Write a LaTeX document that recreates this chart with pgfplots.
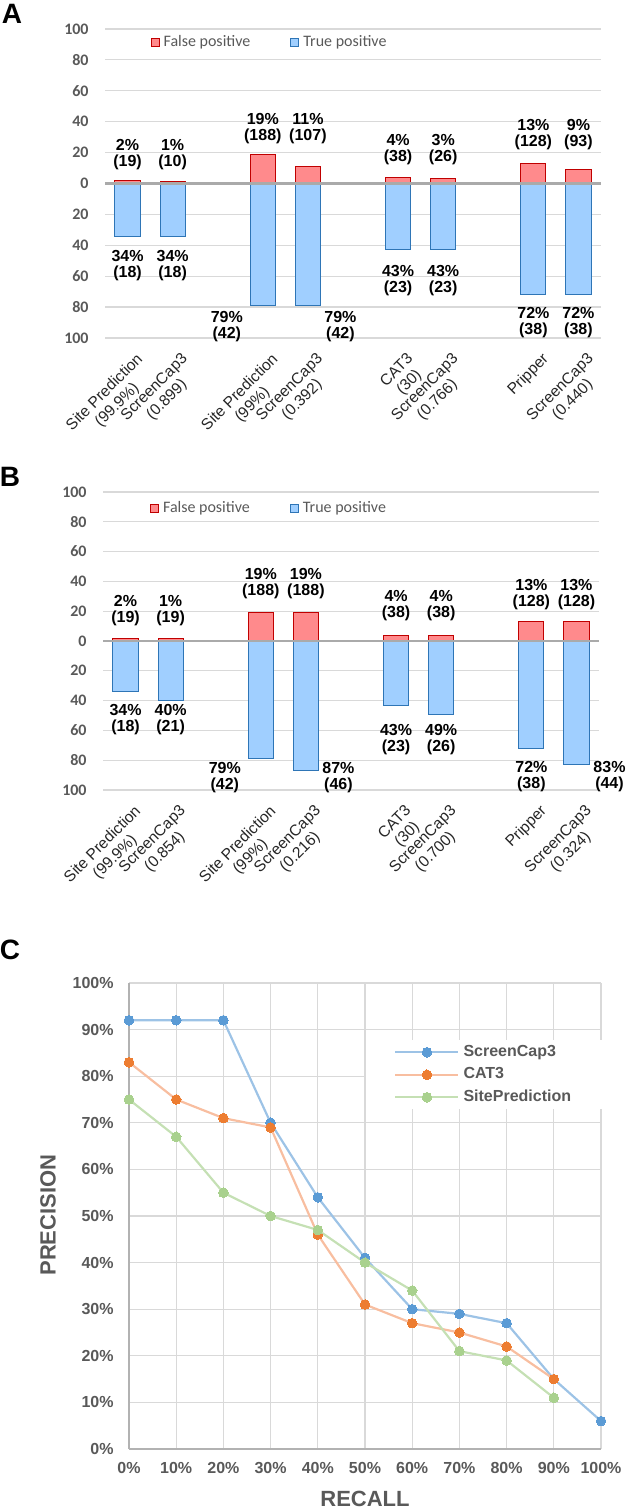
\documentclass[border=0pt]{standalone}
\usepackage{pgfplots}
\pgfplotsset{compat=1.18}
\usepackage{fontspec}
\setmainfont{Liberation Sans}
\newfontfamily\calibri{Carlito}

\definecolor{tickgray}{RGB}{89,89,89}
\definecolor{gridgray}{RGB}{217,217,217}
\definecolor{zerogray}{RGB}{170,170,170}
\definecolor{fpfill}{RGB}{255,138,140}
\definecolor{fpdraw}{RGB}{192,0,0}
\definecolor{tpfill}{RGB}{160,207,255}
\definecolor{tpdraw}{RGB}{46,117,182}
\definecolor{scline}{RGB}{157,195,230}
\definecolor{scmark}{RGB}{91,155,213}
\definecolor{catline}{RGB}{248,190,160}
\definecolor{catmark}{RGB}{237,125,49}
\definecolor{spline}{RGB}{197,224,180}
\definecolor{spmark}{RGB}{169,209,142}

\tikzset{dl/.style={font=\bfseries\fontsize{8}{8}\selectfont, align=center, inner sep=0pt},
         panel/.style={font=\bfseries\fontsize{14}{16}\selectfont, inner sep=0pt}}

\pgfplotsset{
 barpanel/.style={
  scale only axis, width=248pt,
  xmin=-0.5, xmax=10.5, ymin=-100, ymax=100,
  axis line style={draw=none},
  ytick={-100,-80,...,100},
  yticklabels={100,80,60,40,20,0,20,40,60,80,100},
  ymajorgrids, grid style={draw=gridgray, line width=0.6pt},
  major tick length=0pt,
  yticklabel style={font=\calibri\bfseries\fontsize{8}{9}\selectfont, text=tickgray, inner sep=0pt, xshift=-8pt},
  xtick={0,1,3,4,6,7,9,10},
  xticklabel style={font=\fontsize{7.8}{8.8}\selectfont, text=black!85, rotate=45, anchor=north east, align=center, inner sep=0pt, xshift=-2pt, yshift=-7.5pt},
  legend columns=2,
  legend style={draw=none, fill=none, anchor=west, font=\calibri\fontsize{8}{9}\selectfont, text=tickgray, /tikz/every even column/.append style={column sep=18pt}},
  clip=false,
 },
 fp/.style={ybar, bar width=0.56, bar shift=0pt, fill=fpfill, draw=fpdraw, line width=0.5pt, forget plot},
 tp/.style={ybar, bar width=0.56, bar shift=0pt, fill=tpfill, draw=tpdraw, line width=0.5pt, forget plot},
}

\begin{document}
\begin{tikzpicture}
\path[use as bounding box] (0,0) rectangle (314pt,754.5pt);

% panel letters
\node[panel] at (6pt,747.5pt) {A};
\node[panel] at (5pt,516pt) {B};
\node[panel] at (5pt,279.5pt) {C};

% ---------------- Panel A ----------------
\begin{axis}[barpanel, height=154.5pt, at={(52.5pt,585.5pt)}, anchor=south west,
 xticklabels={{Site Prediction\\(99.9\%)},{ScreenCap3\\(0.899)},{Site Prediction\\(99\%)},{ScreenCap3\\(0.392)},{CAT3\\(30)},{ScreenCap3\\(0.766)},{Pripper},{ScreenCap3\\(0.440)}},
 legend style={at={(axis description cs:0.079,0.955)}}]
\addlegendimage{legend image code/.code={\draw[fill=fpfill,draw=fpdraw,line width=0.5pt] (0pt,-2pt) rectangle (4pt,2pt);}}
\addlegendentry{False positive}
\addlegendimage{legend image code/.code={\draw[fill=tpfill,draw=tpdraw,line width=0.5pt] (0pt,-2pt) rectangle (4pt,2pt);}}
\addlegendentry{True positive}
\addplot[fp] coordinates {(0,2) (1,1) (3,19) (4,11) (6,4) (7,3) (9,13) (10,9)};
\addplot[tp] coordinates {(0,-34) (1,-34) (3,-79) (4,-79) (6,-43) (7,-43) (9,-72) (10,-72)};
\draw[zerogray, line width=1.2pt] (axis cs:-0.5,0) -- (axis cs:10.5,0);
% FP labels
\node[dl, anchor=south] at (axis cs:0,8.4) {2\%\\(19)};
\node[dl, anchor=south] at (axis cs:1,8.4) {1\%\\(10)};
\node[dl, anchor=south] at (axis cs:3,25.2) {19\%\\(188)};
\node[dl, anchor=south] at (axis cs:4,25.2) {11\%\\(107)};
\node[dl, anchor=south] at (axis cs:6,11.7) {4\%\\(38)};
\node[dl, anchor=south] at (axis cs:7,11.7) {3\%\\(26)};
\node[dl, anchor=south] at (axis cs:9,21.4) {13\%\\(128)};
\node[dl, anchor=south] at (axis cs:10,21.4) {9\%\\(93)};
% TP labels
\node[dl, anchor=north] at (axis cs:0,-42.7) {34\%\\(18)};
\node[dl, anchor=north] at (axis cs:1,-42.7) {34\%\\(18)};
\node[dl, anchor=north east, xshift=-3.5pt] at (axis cs:2.72,-82.8) {79\%\\(42)};
\node[dl, anchor=north west, xshift=1.75pt] at (axis cs:4.28,-82.8) {79\%\\(42)};
\node[dl, anchor=north] at (axis cs:6,-52.4) {43\%\\(23)};
\node[dl, anchor=north] at (axis cs:7,-52.4) {43\%\\(23)};
\node[dl, anchor=north] at (axis cs:9,-79.6) {72\%\\(38)};
\node[dl, anchor=north] at (axis cs:10,-79.6) {72\%\\(38)};
\end{axis}

% ---------------- Panel B ----------------
\begin{axis}[barpanel, height=149pt, at={(51.5pt,359.5pt)}, anchor=south west,
 xticklabels={{Site Prediction\\(99.9\%)},{ScreenCap3\\(0.854)},{Site Prediction\\(99\%)},{ScreenCap3\\(0.216)},{CAT3\\(30)},{ScreenCap3\\(0.700)},{Pripper},{ScreenCap3\\(0.324)}},
 legend style={at={(axis description cs:0.082,0.946)}}]
\addlegendimage{legend image code/.code={\draw[fill=fpfill,draw=fpdraw,line width=0.5pt] (0pt,-2pt) rectangle (4pt,2pt);}}
\addlegendentry{False positive}
\addlegendimage{legend image code/.code={\draw[fill=tpfill,draw=tpdraw,line width=0.5pt] (0pt,-2pt) rectangle (4pt,2pt);}}
\addlegendentry{True positive}
\addplot[fp] coordinates {(0,2) (1,2) (3,19) (4,19) (6,4) (7,4) (9,13) (10,13)};
\addplot[tp] coordinates {(0,-34) (1,-40) (3,-79) (4,-87) (6,-43) (7,-49) (9,-72) (10,-83)};
\draw[zerogray, line width=1.2pt] (axis cs:-0.5,0) -- (axis cs:10.5,0);
% FP labels
\node[dl, anchor=south] at (axis cs:0,10.1) {2\%\\(19)};
\node[dl, anchor=south] at (axis cs:1,10.1) {1\%\\(19)};
\node[dl, anchor=south] at (axis cs:3,28.2) {19\%\\(188)};
\node[dl, anchor=south] at (axis cs:4,28.2) {19\%\\(188)};
\node[dl, anchor=south] at (axis cs:6,13.4) {4\%\\(38)};
\node[dl, anchor=south] at (axis cs:7,13.4) {4\%\\(38)};
\node[dl, anchor=south] at (axis cs:9,20.8) {13\%\\(128)};
\node[dl, anchor=south] at (axis cs:10,20.8) {13\%\\(128)};
% TP labels
\node[dl, anchor=north] at (axis cs:0,-42.3) {34\%\\(18)};
\node[dl, anchor=north] at (axis cs:1,-42.3) {40\%\\(21)};
\node[dl, anchor=north east, xshift=-3.5pt] at (axis cs:2.72,-81.2) {79\%\\(42)};
\node[dl, anchor=north west, xshift=1.75pt] at (axis cs:4.28,-81.2) {87\%\\(46)};
\node[dl, anchor=north] at (axis cs:6,-55.7) {43\%\\(23)};
\node[dl, anchor=north] at (axis cs:7,-55.7) {49\%\\(26)};
\node[dl, anchor=north] at (axis cs:9,-80.5) {72\%\\(38)};
\node[dl, anchor=north west, xshift=2pt] at (axis cs:10.28,-80.5) {83\%\\(44)};
\end{axis}

% ---------------- Panel C ----------------
\begin{axis}[scale only axis, width=236pt, height=233pt, at={(64.5pt,30pt)}, anchor=south west,
 xmin=0, xmax=100, ymin=0, ymax=100,
 xtick={0,10,...,100}, ytick={0,10,...,100},
 xticklabels={0\%,10\%,20\%,30\%,40\%,50\%,60\%,70\%,80\%,90\%,100\%},
 yticklabels={0\%,10\%,20\%,30\%,40\%,50\%,60\%,70\%,80\%,90\%,100\%},
 grid=major, grid style={draw=gridgray, line width=0.6pt},
 axis x line*=bottom, axis y line*=left,
 axis line style={-, draw=black!30, line width=0.7pt},
 major tick length=0pt,
 ticklabel style={font=\bfseries\fontsize{8}{9}\selectfont, text=tickgray},
 yticklabel style={inner sep=0pt, xshift=-7.5pt},
 xticklabel style={inner sep=0pt, yshift=-6.5pt},
 xlabel={RECALL}, ylabel={PRECISION},
 label style={font=\bfseries\fontsize{11}{13}\selectfont, text=tickgray, inner sep=0pt},
 xlabel style={at={(axis description cs:0.5,-0.107)}, anchor=center},
 ylabel style={at={(axis description cs:-0.1716,0.502)}, anchor=center},
 clip=false,
 legend style={at={(axis description cs:0.502,0.878)}, anchor=north west, fill=white, draw=none,
   font=\bfseries\fontsize{8}{9}\selectfont, text=tickgray, inner xsep=14pt, inner ysep=2pt,
   row sep=3.25pt, nodes={inner ysep=0pt, text height=6pt, text depth=2pt}},
 legend cell align=left,
 legend image code/.code={\draw[mark repeat=2,mark phase=2,#1] plot coordinates {(0pt,0pt) (15.75pt,0pt) (31.5pt,0pt)};},
]
\addplot[color=scline, line width=1.1pt, mark=*, mark size=2.4pt, mark options={fill=scmark, draw=scmark, line width=0pt}]
 coordinates {(0,92) (10,92) (20,92) (30,70) (40,54) (50,41) (60,30) (70,29) (80,27) (90,15) (100,6)};
\addlegendentry{ScreenCap3}
\addplot[color=catline, line width=1.1pt, mark=*, mark size=2.4pt, mark options={fill=catmark, draw=catmark, line width=0pt}]
 coordinates {(0,83) (10,75) (20,71) (30,69) (40,46) (50,31) (60,27) (70,25) (80,22) (90,15)};
\addlegendentry{CAT3}
\addplot[color=spline, line width=1.1pt, mark=*, mark size=2.4pt, mark options={fill=spmark, draw=spmark, line width=0pt}]
 coordinates {(0,75) (10,67) (20,55) (30,50) (40,47) (50,40) (60,34) (70,21) (80,19) (90,11)};
\addlegendentry{SitePrediction}
\end{axis}
\end{tikzpicture}
\end{document}
